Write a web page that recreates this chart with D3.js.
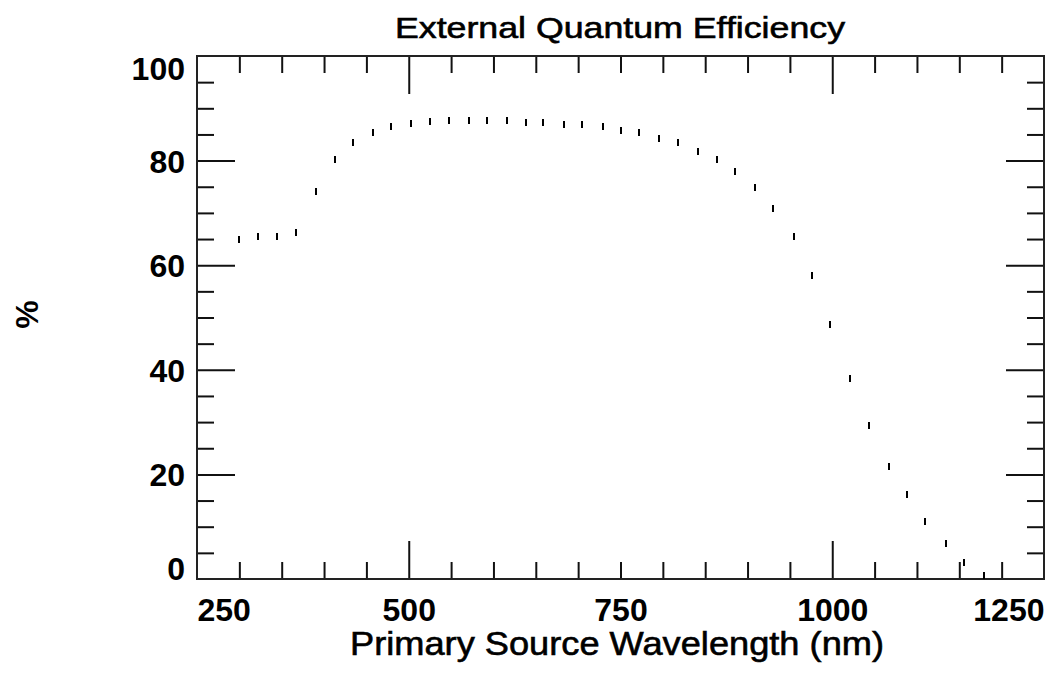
<!DOCTYPE html>
<html>
<head>
<meta charset="utf-8">
<script src="https://cdn.jsdelivr.net/npm/d3@7"></script>
<style>
  body { margin: 0; background: #fff; }
  text { font-family: "Liberation Sans", Arial, sans-serif; fill: #000; }
  .tick-label text { font-weight: bold; font-size: 32px; }
  .ticks line { stroke: #111; stroke-width: 2; }
  .title { stroke: #000; stroke-width: 0.6; }
</style>
</head>
<body>
<div class="vis-eqe"></div>
<script>
// wavelength (nm) and EQE (%)
const wavelength = [300, 322, 345, 367, 391, 413, 434, 458, 479, 503,
  525, 547, 571, 592, 616, 638, 659, 683, 705, 729,
  751, 772, 796, 818, 842, 864, 885, 909, 930, 955,
  976, 997, 1021, 1043, 1067, 1088, 1110, 1134, 1155, 1179];
const eqe = [65.0, 65.4, 65.4, 66.2, 74.1, 80.2, 83.4, 85.4, 86.6, 87.0,
  87.4, 87.7, 87.7, 87.7, 87.7, 87.3, 87.3, 86.9, 86.9, 86.6,
  85.7, 85.3, 84.2, 83.4, 81.8, 80.3, 78.0, 74.8, 70.9, 65.4,
  58.0, 48.6, 38.4, 29.4, 21.6, 16.1, 11.0, 6.7, 3.2, 0.6];

const xTickLabels = [250, 500, 750, 1000, 1250];
const yTickLabels = [0, 20, 40, 60, 80, 100];
const xMajor = [500, 1000];
const yMajor = [20, 40, 60, 80];
const xMinor = d3.range(300, 1250, 50).filter((v) => !xMajor.includes(v));
const yMinor = d3.range(5, 100, 5).filter((v) => !yMajor.includes(v));

const draw = () => {
  const W = 1049, H = 674;
  const margin = { top: 56, right: 5, bottom: 95, left: 197 };
  const width = W - margin.left - margin.right;
  const height = H - margin.top - margin.bottom;

  const svg = d3.select(".vis-eqe").append("svg")
    .attr("width", W).attr("height", H);
  const g = svg.append("g")
    .attr("transform", "translate(" + margin.left + "," + margin.top + ")");

  const x = d3.scaleLinear().domain([250, 1250]).range([0, width]);
  const y = d3.scaleLinear().domain([0, 100]).range([height, 0]);

  const minorLen = 17, majorLen = 38;

  // inward ticks on all four sides
  const tickSets = [
    [d3.axisBottom(x), xMinor, minorLen, "translate(0," + height + ")"],
    [d3.axisBottom(x), xMajor, majorLen, "translate(0," + height + ")"],
    [d3.axisTop(x), xMinor, minorLen, null],
    [d3.axisTop(x), xMajor, majorLen, null],
    [d3.axisLeft(y), yMinor, minorLen, null],
    [d3.axisLeft(y), yMajor, majorLen, null],
    [d3.axisRight(y), yMinor, minorLen, "translate(" + width + ",0)"],
    [d3.axisRight(y), yMajor, majorLen, "translate(" + width + ",0)"],
  ];
  tickSets.forEach(([axis, vals, len, tr]) => {
    const a = g.append("g").attr("class", "ticks")
      .call(axis.tickValues(vals).tickSize(-len).tickFormat(""));
    if (tr) a.attr("transform", tr);
    a.select(".domain").remove();
  });

  // frame
  g.append("rect")
    .attr("x", 0).attr("y", 0)
    .attr("width", width).attr("height", height)
    .attr("fill", "none")
    .attr("stroke", "#222")
    .attr("stroke-width", 2);

  // x tick labels
  const xl = g.append("g").attr("class", "tick-label")
    .attr("transform", "translate(0," + height + ")")
    .call(d3.axisBottom(x).tickValues(xTickLabels).tickSize(0).tickPadding(19)
      .tickFormat(d3.format("d")));
  xl.select(".domain").remove();
  xl.selectAll("text")
    .attr("fill", "#000")
    .attr("text-anchor", (d, i) => i === 0 ? "start" : i === xTickLabels.length - 1 ? "end" : "middle");

  // y tick labels
  const yl = g.append("g").attr("class", "tick-label")
    .call(d3.axisLeft(y).tickValues(yTickLabels).tickSize(0).tickPadding(12)
      .tickFormat(d3.format("d")));
  yl.select(".domain").remove();
  yl.selectAll("text")
    .attr("fill", "#000")
    .attr("dy", (d) => d === 0 ? "0em" : d === 100 ? "0.72em" : "0.36em");

  // data marks: short vertical dashes
  g.selectAll(".pt")
    .data(wavelength)
    .enter()
    .append("rect")
    .attr("class", "pt")
    .attr("x", (d) => Math.round(x(d)) - 1)
    .attr("y", (d, i) => Math.round(y(eqe[i]) - 3.5))
    .attr("width", 2)
    .attr("height", 7)
    .attr("shape-rendering", "crispEdges")
    .attr("fill", "#000");

  // titles
  svg.append("text")
    .attr("class", "title")
    .attr("x", 620).attr("y", 38)
    .attr("text-anchor", "middle")
    .attr("font-size", 30)
    .attr("textLength", 450)
    .attr("lengthAdjust", "spacingAndGlyphs")
    .text("External Quantum Efficiency");

  svg.append("text")
    .attr("class", "title")
    .attr("x", 617).attr("y", 655)
    .attr("text-anchor", "middle")
    .attr("font-size", 33)
    .attr("textLength", 534)
    .attr("lengthAdjust", "spacingAndGlyphs")
    .text("Primary Source Wavelength (nm)");

  svg.append("text")
    .attr("transform", "translate(38," + (margin.top + height / 2 - 3) + ") rotate(-90)")
    .attr("text-anchor", "middle")
    .attr("font-size", 32)
    .attr("font-weight", "bold")
    .text("%");
};

draw();
</script>
</body>
</html>
